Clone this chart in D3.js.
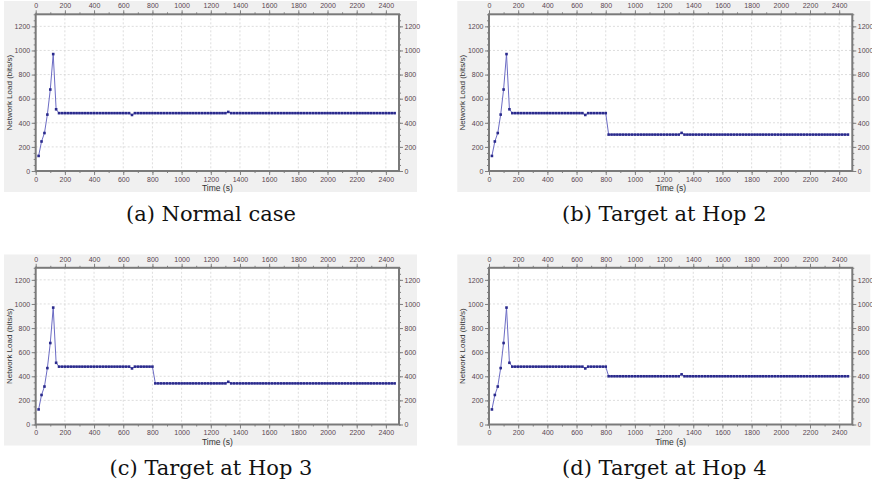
<!DOCTYPE html>
<html>
<head>
<meta charset="utf-8">
<script src="https://cdn.jsdelivr.net/npm/d3@7"></script>
<style>
  body { margin: 0; background: #fff; }
  svg { display: block; }
</style>
</head>
<body>
<div id="chart"></div>
<script>
const W = 872, H = 484;

// sample times (s)
const times = [
  20, 40, 60, 80, 100, 120, 140, 160, 180, 200,
  220, 240, 260, 280, 300, 320, 340, 360, 380, 400,
  420, 440, 460, 480, 500, 520, 540, 560, 580, 600,
  620, 640, 660, 680, 700, 720, 740, 760, 780, 800,
  820, 840, 860, 880, 900, 920, 940, 960, 980, 1000,
  1020, 1040, 1060, 1080, 1100, 1120, 1140, 1160, 1180, 1200,
  1220, 1240, 1260, 1280, 1300, 1320, 1340, 1360, 1380, 1400,
  1420, 1440, 1460, 1480, 1500, 1520, 1540, 1560, 1580, 1600,
  1620, 1640, 1660, 1680, 1700, 1720, 1740, 1760, 1780, 1800,
  1820, 1840, 1860, 1880, 1900, 1920, 1940, 1960, 1980, 2000,
  2020, 2040, 2060, 2080, 2100, 2120, 2140, 2160, 2180, 2200,
  2220, 2240, 2260, 2280, 2300, 2320, 2340, 2360, 2380, 2400,
  2420, 2440, 2460
];

const normalCase = [
  125, 245, 315, 468, 676, 970, 512, 480, 480, 480,
  480, 480, 480, 480, 480, 480, 480, 480, 480, 480,
  480, 480, 480, 480, 480, 480, 480, 480, 480, 480,
  480, 480, 465, 480, 480, 480, 480, 480, 480, 480,
  480, 480, 480, 480, 480, 480, 480, 480, 480, 480,
  480, 480, 480, 480, 480, 480, 480, 480, 480, 480,
  480, 480, 480, 480, 480, 490, 480, 480, 480, 480,
  480, 480, 480, 480, 480, 480, 480, 480, 480, 480,
  480, 480, 480, 480, 480, 480, 480, 480, 480, 480,
  480, 480, 480, 480, 480, 480, 480, 480, 480, 480,
  480, 480, 480, 480, 480, 480, 480, 480, 480, 480,
  480, 480, 480, 480, 480, 480, 480, 480, 480, 480,
  480, 480, 480
];

const hop2 = [
  125, 245, 315, 468, 676, 970, 512, 480, 480, 480,
  480, 480, 480, 480, 480, 480, 480, 480, 480, 480,
  480, 480, 480, 480, 480, 480, 480, 480, 480, 480,
  480, 480, 465, 480, 480, 480, 480, 480, 480, 480,
  302, 302, 302, 302, 302, 302, 302, 302, 302, 302,
  302, 302, 302, 302, 302, 302, 302, 302, 302, 302,
  302, 302, 302, 302, 302, 316, 302, 302, 302, 302,
  302, 302, 302, 302, 302, 302, 302, 302, 302, 302,
  302, 302, 302, 302, 302, 302, 302, 302, 302, 302,
  302, 302, 302, 302, 302, 302, 302, 302, 302, 302,
  302, 302, 302, 302, 302, 302, 302, 302, 302, 302,
  302, 302, 302, 302, 302, 302, 302, 302, 302, 302,
  302, 302, 302
];

const hop3 = [
  125, 245, 315, 468, 676, 970, 512, 480, 480, 480,
  480, 480, 480, 480, 480, 480, 480, 480, 480, 480,
  480, 480, 480, 480, 480, 480, 480, 480, 480, 480,
  480, 480, 465, 480, 480, 480, 480, 480, 480, 480,
  341, 341, 341, 341, 341, 341, 341, 341, 341, 341,
  341, 341, 341, 341, 341, 341, 341, 341, 341, 341,
  341, 341, 341, 341, 341, 354, 341, 341, 341, 341,
  341, 341, 341, 341, 341, 341, 341, 341, 341, 341,
  341, 341, 341, 341, 341, 341, 341, 341, 341, 341,
  341, 341, 341, 341, 341, 341, 341, 341, 341, 341,
  341, 341, 341, 341, 341, 341, 341, 341, 341, 341,
  341, 341, 341, 341, 341, 341, 341, 341, 341, 341,
  341, 341, 341
];

const hop4 = [
  125, 245, 315, 468, 676, 970, 512, 480, 480, 480,
  480, 480, 480, 480, 480, 480, 480, 480, 480, 480,
  480, 480, 480, 480, 480, 480, 480, 480, 480, 480,
  480, 480, 465, 480, 480, 480, 480, 480, 480, 480,
  400, 400, 400, 400, 400, 400, 400, 400, 400, 400,
  400, 400, 400, 400, 400, 400, 400, 400, 400, 400,
  400, 400, 400, 400, 400, 416, 400, 400, 400, 400,
  400, 400, 400, 400, 400, 400, 400, 400, 400, 400,
  400, 400, 400, 400, 400, 400, 400, 400, 400, 400,
  400, 400, 400, 400, 400, 400, 400, 400, 400, 400,
  400, 400, 400, 400, 400, 400, 400, 400, 400, 400,
  400, 400, 400, 400, 400, 400, 400, 400, 400, 400,
  400, 400, 400
];

const captions = ["(a) Normal case", "(b) Target at Hop 2", "(c) Target at Hop 3", "(d) Target at Hop 4"];
const xTicks = [0, 200, 400, 600, 800, 1000, 1200, 1400, 1600, 1800, 2000, 2200, 2400];
const yTicks = [0, 200, 400, 600, 800, 1000, 1200];

const panels = [
  { vals: normalCase, ox: 0, oy: 0 },
  { vals: hop2, ox: 453.3, oy: 0 },
  { vals: hop3, ox: 0, oy: 253.5 },
  { vals: hop4, ox: 453.3, oy: 253.5 }
];

const svg = d3.select("#chart").append("svg")
  .attr("width", W)
  .attr("height", H);

// plot frame inside a panel
const pLeft = 35.7, pTop = 14.3, pRight = 399, pBottom = 171;

const x = d3.scaleLinear().domain([0, 2490]).range([pLeft, pRight]);
const y = d3.scaleLinear().domain([0, 1300]).range([pBottom, pTop]);

const tickCol = "#5a4650";
const fontSans = "'Liberation Sans', Arial, sans-serif";

panels.forEach((p, i) => {
  const g = svg.append("g").attr("transform", `translate(${p.ox},${p.oy})`);

  // grey panel background
  g.append("rect")
    .attr("x", 4).attr("y", 1)
    .attr("width", 413).attr("height", 191)
    .attr("fill", "#f0f0f0");

  g.append("rect")
    .attr("x", pLeft).attr("y", pTop)
    .attr("width", pRight - pLeft).attr("height", pBottom - pTop)
    .attr("fill", "#fff");

  // grid
  g.append("g").selectAll("line")
    .data(xTicks.filter(d => d > 0))
    .join("line")
    .attr("x1", d => x(d)).attr("x2", d => x(d))
    .attr("y1", pTop).attr("y2", pBottom)
    .attr("stroke", "#d4d4d4")
    .attr("stroke-dasharray", "2,2")
    .attr("stroke-width", 0.8);

  g.append("g").selectAll("line")
    .data(yTicks.filter(d => d > 0))
    .join("line")
    .attr("x1", pLeft).attr("x2", pRight)
    .attr("y1", d => y(d)).attr("y2", d => y(d))
    .attr("stroke", "#d4d4d4")
    .attr("stroke-dasharray", "2,2")
    .attr("stroke-width", 0.8);

  // axes on all four sides
  const xMinor = d3.range(0, 2491, 100);
  const yMinor = d3.range(0, 1301, 50);

  const styleAxis = sel => {
    sel.select(".domain").remove();
    sel.selectAll("line").attr("stroke", "#808080");
    sel.selectAll("text")
      .attr("fill", tickCol)
      .style("font-family", fontSans)
      .style("font-size", "7px");
  };

  g.append("g").attr("transform", `translate(0,${pBottom})`)
    .call(d3.axisBottom(x).tickValues(xMinor).tickSize(2).tickFormat(""))
    .call(styleAxis);
  g.append("g").attr("transform", `translate(0,${pBottom})`)
    .call(d3.axisBottom(x).tickValues(xTicks).tickSize(4).tickPadding(2).tickFormat(d3.format("d")))
    .call(styleAxis);

  g.append("g").attr("transform", `translate(0,${pTop})`)
    .call(d3.axisTop(x).tickValues(xMinor).tickSize(2).tickFormat(""))
    .call(styleAxis);
  g.append("g").attr("transform", `translate(0,${pTop})`)
    .call(d3.axisTop(x).tickValues(xTicks).tickSize(4).tickPadding(2).tickFormat(d3.format("d")))
    .call(styleAxis);

  g.append("g").attr("transform", `translate(${pLeft},0)`)
    .call(d3.axisLeft(y).tickValues(yMinor).tickSize(2).tickFormat(""))
    .call(styleAxis);
  g.append("g").attr("transform", `translate(${pLeft},0)`)
    .call(d3.axisLeft(y).tickValues(yTicks).tickSize(4).tickPadding(1.5).tickFormat(d3.format("d")))
    .call(styleAxis);

  g.append("g").attr("transform", `translate(${pRight},0)`)
    .call(d3.axisRight(y).tickValues(yMinor).tickSize(2).tickFormat(""))
    .call(styleAxis);
  g.append("g").attr("transform", `translate(${pRight},0)`)
    .call(d3.axisRight(y).tickValues(yTicks).tickSize(4).tickPadding(1.5).tickFormat(d3.format("d")))
    .call(styleAxis);

  // frame
  g.append("rect")
    .attr("x", pLeft).attr("y", pTop)
    .attr("width", pRight - pLeft).attr("height", pBottom - pTop)
    .attr("fill", "none")
    .attr("stroke", "#7a7a7a")
    .attr("stroke-width", 2);

  // series
  const pts = times.map((t, k) => [t, p.vals[k]]);
  const line = d3.line().x(d => x(d[0])).y(d => y(d[1]));

  g.append("path")
    .datum(pts)
    .attr("d", line)
    .attr("fill", "none")
    .attr("stroke", "#6c6cc4")
    .attr("stroke-width", 1);

  g.append("g").selectAll("rect")
    .data(pts)
    .join("rect")
    .attr("x", d => x(d[0]) - 1.3)
    .attr("y", d => y(d[1]) - 1.3)
    .attr("width", 2.6).attr("height", 2.6)
    .attr("fill", "#2a2a8c");

  // axis titles
  g.append("text")
    .attr("x", (pLeft + pRight) / 2).attr("y", 191)
    .attr("text-anchor", "middle")
    .style("font-family", fontSans)
    .style("font-size", "8.5px")
    .attr("fill", "#333")
    .text("Time (s)");

  g.append("text")
    .attr("transform", `translate(11.5,${(pTop + pBottom) / 2}) rotate(-90)`)
    .attr("text-anchor", "middle")
    .style("font-family", fontSans)
    .style("font-size", "8px")
    .attr("fill", "#333")
    .text("Network Load (bits/s)");

  // caption
  g.append("text")
    .attr("x", 211).attr("y", 221)
    .attr("text-anchor", "middle")
    .style("font-family", "'DejaVu Serif', serif")
    .style("font-size", "21px")
    .attr("fill", "#111")
    .text(captions[i]);
});
</script>
</body>
</html>
